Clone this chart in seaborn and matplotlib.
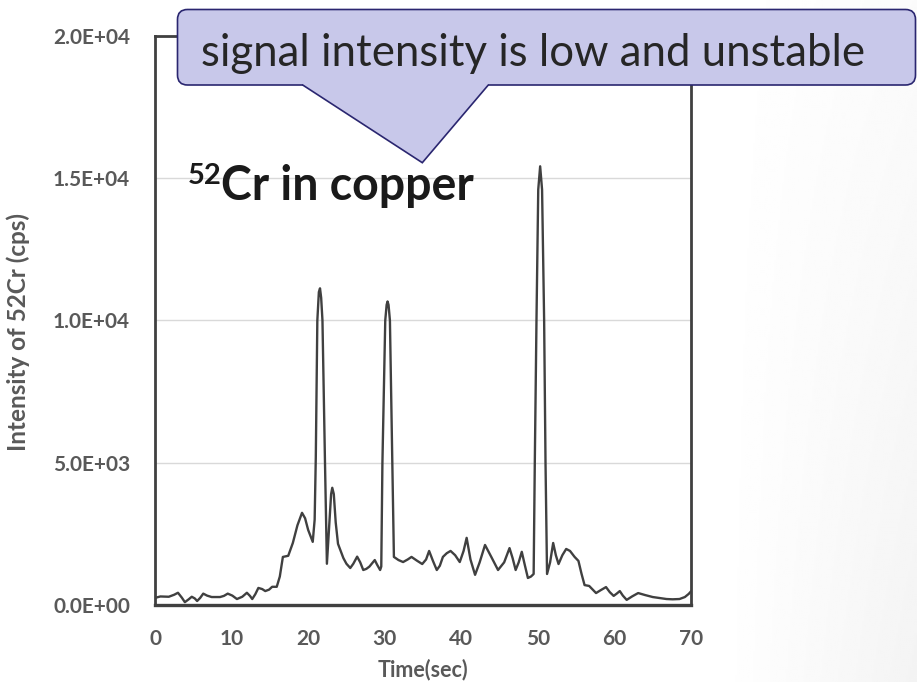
import numpy as np
import pandas as pd
import matplotlib
matplotlib.use("Agg")
import matplotlib.pyplot as plt
import seaborn as sns
from matplotlib.patches import FancyBboxPatch, Polygon

# 52Cr signal trace in copper (time in seconds, intensity in counts per second)
time_s = [
    0.0, 0.7, 1.8, 2.5, 3.0, 3.5, 3.9, 4.4, 4.8, 5.2, 5.5, 5.9, 6.3, 6.8, 7.4,
    8.5, 9.0, 9.5, 10.1, 10.7, 11.4, 12.0, 12.4, 12.7, 13.1, 13.5, 14.0, 14.4,
    14.9, 15.3, 15.9, 16.3, 16.7, 17.4, 18.0, 18.6, 19.2, 19.6, 20.0, 20.6,
    20.85, 21.0, 21.2, 21.4, 21.55, 21.7, 21.87, 22.2, 22.45, 22.8, 23.0,
    23.15, 23.35, 23.6, 23.9, 24.2, 24.6, 25.0, 25.5, 25.9, 26.4, 26.8, 27.2,
    27.6, 28.0, 28.4, 28.7, 29.0, 29.4, 29.55, 29.7, 30.07, 30.25, 30.37,
    30.5, 30.68, 31.0, 31.2, 31.8, 32.4, 33.0, 33.5, 34.2, 34.9, 35.4, 35.8,
    36.3, 36.8, 37.2, 37.6, 38.1, 38.6, 39.2, 39.8, 40.3, 40.7, 41.2, 41.8,
    42.4, 43.1, 43.9, 44.8, 45.6, 46.3, 46.7, 47.1, 47.5, 47.9, 48.3, 48.7,
    49.1, 49.45, 49.6, 49.82, 50.05, 50.3, 50.55, 50.82, 51.0, 51.2, 51.6,
    52.0, 52.35, 52.7, 53.2, 53.7, 54.2, 54.8, 55.3, 55.7, 56.1, 56.7, 57.1,
    57.6, 58.2, 58.9, 59.4, 59.9, 60.3, 60.7, 61.1, 61.6, 62.3, 63.1, 64.0,
    65.0, 66.0, 66.8, 67.6, 68.5, 69.2, 69.7, 70.0,
]
intensity_cps = [
    250, 300, 290, 360, 430, 260, 100, 200, 290, 230, 140, 250, 400, 330, 280,
    280, 320, 400, 330, 210, 290, 430, 320, 210, 380, 600, 560, 490, 540, 640,
    640, 1000, 1690, 1730, 2180, 2800, 3240, 3050, 2640, 2220, 3000, 5200,
    10000, 11000, 11130, 10800, 10000, 5000, 1450, 3000, 3900, 4120, 3900,
    2900, 2150, 1940, 1650, 1450, 1300, 1450, 1700, 1500, 1230, 1270, 1350,
    1480, 1580, 1420, 1230, 1350, 5000, 10000, 10550, 10670, 10550, 10000,
    5000, 1690, 1580, 1510, 1600, 1690, 1560, 1440, 1600, 1900, 1550, 1230,
    1380, 1690, 1820, 1900, 1750, 1510, 1900, 2360, 1600, 1060, 1500, 2110,
    1700, 1230, 1500, 2000, 1650, 1230, 1500, 1870, 1400, 950, 1000, 1090,
    5000, 10000, 14600, 15420, 14600, 10000, 5000, 1090, 1500, 2180, 1750,
    1440, 1750, 1970, 1900, 1690, 1550, 1100, 700, 670, 560, 420, 520, 630,
    450, 320, 400, 490, 330, 180, 300, 420, 350, 280, 240, 210, 200, 210, 280,
    390, 480,
]

x_ticks = [0, 10, 20, 30, 40, 50, 60, 70]
y_ticks = [0, 5000, 10000, 15000, 20000]
y_tick_labels = ["0.0E+00", "5.0E+03", "1.0E+04", "1.5E+04", "2.0E+04"]

W, H = 917, 682
sns.set_theme(style="white")
plt.rcParams["font.family"] = ["Lato", "DejaVu Sans"]

fig = plt.figure(figsize=(W / 100, H / 100), dpi=100)
fig.patch.set_facecolor("white")

# faint slide background shading toward the lower right
bg = fig.add_axes([0, 0, 1, 1], zorder=-5)
gx, gy = np.meshgrid(np.linspace(0, W, 460), np.linspace(0, H, 340))
shade = np.clip((gx - 720) / 197.0, 0, 1) * (0.35 + 0.65 * gy / H)
bg.imshow(1 - 0.045 * shade, cmap="gray", vmin=0, vmax=1, aspect="auto",
          extent=[0, W, H, 0], interpolation="bilinear")
bg.set_xlim(0, W)
bg.set_ylim(H, 0)
bg.axis("off")

left, right, bottom, top = 155, 691, 605, 36
ax = fig.add_axes([left / W, (H - bottom) / H, (right - left) / W, (bottom - top) / H])
ax.set_facecolor("white")

df = pd.DataFrame({"Time(sec)": time_s, "Intensity": intensity_cps})
sns.lineplot(data=df, x="Time(sec)", y="Intensity", ax=ax, color="#404040",
             linewidth=1.7, sort=False, estimator=None)
for ln in ax.get_lines():
    ln.set_solid_joinstyle("round")

ax.set_xlim(0, 70)
ax.set_ylim(0, 20000)
ax.set_xticks(x_ticks)
ax.set_xticklabels([str(v) for v in x_ticks])
ax.set_yticks(y_ticks)
ax.set_yticklabels(y_tick_labels)
ax.yaxis.grid(True, color="#d9d9d9", linewidth=1.0)
ax.xaxis.grid(False)
ax.tick_params(axis="both", length=0, labelsize=15, labelcolor="#595959")
ax.tick_params(axis="y", pad=18)
ax.tick_params(axis="x", pad=17)
for lab in ax.get_xticklabels() + ax.get_yticklabels():
    lab.set_fontweight("bold")

for name, sp in ax.spines.items():
    sp.set_visible(True)
    sp.set_color("#404040")
    sp.set_linewidth(2.0)
ax.spines["bottom"].set_linewidth(2.4)

ax.set_xlabel("Time(sec)", fontsize=15.5, fontweight="bold", color="#595959")
ax.set_ylabel("Intensity of 52Cr (cps)", fontsize=17.5, fontweight="bold", color="#595959")
ax.xaxis.set_label_coords(0.5, (bottom - 659) / (bottom - top))
ax.yaxis.set_label_coords((30 - left) / (right - left), (bottom - 332) / (bottom - top))

# overlay in pixel coordinates for the callout and the sample title
ov = fig.add_axes([0, 0, 1, 1], zorder=10)
ov.set_xlim(0, W)
ov.set_ylim(H, 0)
ov.axis("off")
ov.patch.set_alpha(0)

fill_c, edge_c = "#c8c8ea", "#2a2670"
box = FancyBboxPatch((177.5, 9.5), W - 177.5 - 1.5, 85 - 9.5,
                     boxstyle="round,pad=0,rounding_size=10",
                     facecolor=fill_c, edgecolor=edge_c, linewidth=1.2)
ov.add_patch(box)
ov.add_patch(Polygon([(303.5, 83.0), (487.5, 83.0), (488.3, 85.0),
                      (422.3, 162.7), (302.7, 85.0)],
                     closed=True, facecolor=fill_c, edgecolor="none"))
ov.plot([302.7, 422.3, 488.3], [85.0, 162.7, 85.0], color=edge_c, linewidth=1.2,
        solid_joinstyle="miter")
ov.text(533, 53, "signal intensity is low and unstable", ha="center", va="center",
        fontsize=31.5, color="#262626")

ov.text(188, 184, "52", ha="left", va="baseline", fontsize=21,
        fontweight="bold", color="#1a1a1a")
ov.text(221, 200, "Cr in copper", ha="left", va="baseline", fontsize=33.5,
        fontweight="bold", color="#1a1a1a")

fig.savefig("out.png", dpi=100)
